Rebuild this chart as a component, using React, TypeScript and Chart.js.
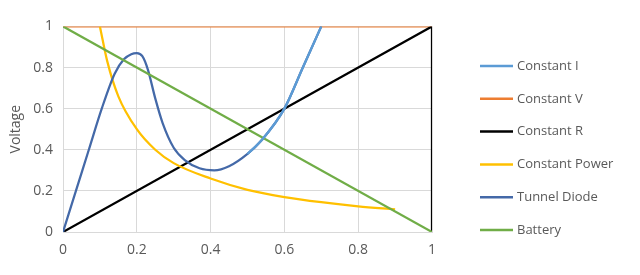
import React, { useEffect, useRef } from "react";
import { Chart, registerables } from "chart.js";

Chart.register(...registerables);

const xTickLabels = ["0", "0.2", "0.4", "0.6", "0.8", "1"];
const yTickLabels = ["0", "0.2", "0.4", "0.6", "0.8", "1"];

const seriesNames = ["Constant I", "Constant V", "Constant R", "Constant Power", "Tunnel Diode", "Battery"];
const seriesColors = ["#5B9BD5", "#ED7D31", "#000000", "#FFC000", "#4469A8", "#70AD47"];

const constIX = [0.5, 0.54, 0.6, 0.65, 0.7];
const constIY = [0.38, 0.45, 0.6, 0.8, 1.0];

const constVX = [0, 1];
const constVY = [1, 1];

const constRX = [0, 1, 1];
const constRY = [0, 1, 0];

const powerX = [0.1, 0.12, 0.15, 0.2, 0.25, 0.3, 0.4, 0.5, 0.6, 0.7, 0.8, 0.9];
const powerY = [1.0, 0.83, 0.66, 0.5, 0.4, 0.335, 0.26, 0.205, 0.17, 0.145, 0.125, 0.11];

const diodeX = [0, 0.035, 0.07, 0.105, 0.14, 0.165, 0.185, 0.2, 0.215, 0.23, 0.25, 0.27, 0.3, 0.33, 0.37, 0.41, 0.45, 0.5, 0.54, 0.6, 0.65, 0.7];
const diodeY = [0, 0.2, 0.4, 0.6, 0.77, 0.84, 0.865, 0.87, 0.855, 0.79, 0.65, 0.53, 0.41, 0.35, 0.31, 0.3, 0.32, 0.38, 0.45, 0.6, 0.8, 1.0];

const batteryX = [0, 1];
const batteryY = [1, 0];

const pts = (xs: number[], ys: number[]) => xs.map((x, i) => ({ x, y: ys[i] }));

const FONT = "'Open Sans', 'Noto Sans', sans-serif";
const TEXT = "#595959";

const legendPlugin = {
  id: "customLegend",
  afterDraw(chart: any) {
    const ctx = chart.ctx;
    ctx.save();
    const startY = 58;
    const gap = 32.8;
    chart.data.datasets.forEach((ds: any, i: number) => {
      const y = startY + i * gap;
      ctx.strokeStyle = ds.borderColor;
      ctx.lineWidth = 2.5;
      ctx.beginPath();
      ctx.moveTo(472, y);
      ctx.lineTo(505, y);
      ctx.stroke();
      ctx.fillStyle = TEXT;
      ctx.font = `13px ${FONT}`;
      ctx.textBaseline = "middle";
      ctx.textAlign = "left";
      ctx.fillText(ds.label, 509, y);
    });
    ctx.restore();
  },
};

export default function App() {
  const ref = useRef<HTMLCanvasElement | null>(null);
  useEffect(() => {
    if (!ref.current) return;
    const data = [
      pts(constIX, constIY),
      pts(constVX, constVY),
      pts(constRX, constRY),
      pts(powerX, powerY),
      pts(diodeX, diodeY),
      pts(batteryX, batteryY),
    ];
    const curved = [true, false, false, true, true, false];
    const orders = [0, 5, 4, 3, 2, 1];
    const chart = new Chart(ref.current, {
      type: "line",
      data: {
        datasets: seriesNames.map((name, i) => ({
          label: name,
          data: data[i],
          borderColor: seriesColors[i],
          backgroundColor: seriesColors[i],
          borderWidth: 2.25,
          pointRadius: 0,
          fill: false,
          tension: curved[i] ? 0.4 : 0,
          cubicInterpolationMode: curved[i] ? "monotone" : "default",
          order: orders[i],
        })),
      },
      options: {
        animation: false,
        responsive: true,
        maintainAspectRatio: false,
        layout: { padding: { top: 6, right: 200, left: 0, bottom: 0 } },
        plugins: { legend: { display: false }, tooltip: { enabled: false } },
        scales: {
          x: {
            type: "linear",
            min: 0,
            max: 1,
            ticks: {
              stepSize: 0.2,
              padding: 10,
              color: TEXT,
              font: { size: 14, family: FONT },
              callback: (v: any) => xTickLabels[Math.round(Number(v) * 5)],
            },
            grid: { color: "#D9D9D9", drawTicks: false, lineWidth: 1 },
            border: { color: "#D9D9D9" },
            afterFit: (s: any) => { s.height = 35; },
          },
          y: {
            type: "linear",
            min: 0,
            max: 1,
            ticks: {
              stepSize: 0.2,
              padding: 10,
              color: TEXT,
              font: { size: 14, family: FONT },
              callback: (v: any) => yTickLabels[Math.round(Number(v) * 5)],
            },
            title: { display: true, text: "Voltage", color: TEXT, font: { size: 14, family: FONT }, padding: 0 },
            grid: { color: "#D9D9D9", drawTicks: false, lineWidth: 1 },
            border: { color: "#D9D9D9" },
            afterFit: (s: any) => { s.width = 55; },
          },
        },
      },
      plugins: [legendPlugin],
    } as any);
    return () => chart.destroy();
  }, []);
  return (
    <div style={{ width: "100%", height: 259, position: "relative" }}>
      <canvas ref={ref} />
    </div>
  );
}
